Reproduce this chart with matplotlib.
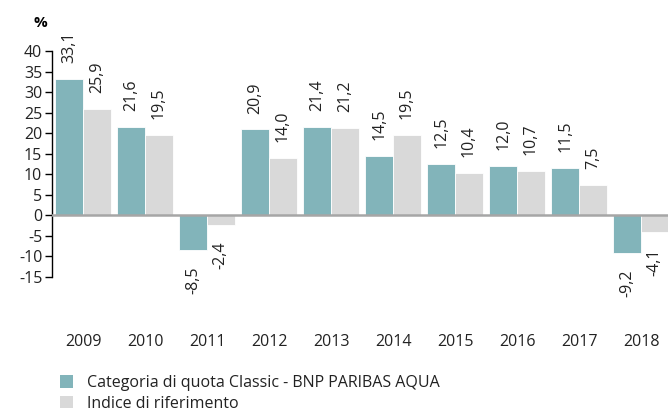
import matplotlib
matplotlib.use("Agg")
import matplotlib.pyplot as plt
from matplotlib.patches import Patch
import numpy as np

years = ["2009", "2010", "2011", "2012", "2013", "2014", "2015", "2016", "2017", "2018"]
fund = [33.1, 21.6, -8.5, 20.9, 21.4, 14.5, 12.5, 12.0, 11.5, -9.2]
index = [25.9, 19.5, -2.4, 14.0, 21.2, 19.5, 10.4, 10.7, 7.5, -4.1]
series_names = ["Categoria di quota Classic - BNP PARIBAS AQUA", "Indice di riferimento"]
yticks = [-15, -10, -5, 0, 5, 10, 15, 20, 25, 30, 35, 40]

teal = "#82b4ba"
grey = "#d9d9d9"
txt = "#222222"

plt.rcParams["font.family"] = ["Open Sans", "DejaVu Sans"]

fig = plt.figure(figsize=(6.68, 4.13), dpi=100)
ax = fig.add_axes([52 / 668, 136 / 413, 620 / 668, 226 / 413])

x = np.arange(len(years))
w = 0.445
b1 = ax.bar(x - w / 2, fund, w, color=teal, edgecolor="white", linewidth=0.6, zorder=2)
b2 = ax.bar(x + w / 2, index, w, color=grey, edgecolor="white", linewidth=0.6, zorder=2)

def fmt(v):
    return f"{v:.1f}".replace(".", ",")

for bars, vals in [(b1, fund), (b2, index)]:
    for r, v in zip(bars, vals):
        cx = r.get_x() + r.get_width() / 2
        if v >= 0:
            ax.annotate(fmt(v), (cx, v), xytext=(0, 11.5), textcoords="offset points",
                        rotation=90, ha="center", va="bottom", fontsize=11.5,
                        color=txt, annotation_clip=False)
        else:
            ax.annotate(fmt(v), (cx, v), xytext=(0, -11.5), textcoords="offset points",
                        rotation=90, ha="center", va="top", fontsize=11.5,
                        color=txt, annotation_clip=False)

ax.set_xlim(-0.5, len(years) - 0.5)
ax.set_ylim(-15, 40)
ax.set_yticks(yticks)
ax.set_yticklabels([str(t) for t in yticks], fontsize=11.5, color=txt)
ax.axhline(0, color="#a6a6a6", linewidth=1.8, zorder=3)

for s in ["top", "right", "bottom"]:
    ax.spines[s].set_visible(False)
ax.spines["left"].set_color("black")
ax.spines["left"].set_linewidth(1.0)
ax.tick_params(axis="y", length=5, width=1.0, pad=2, direction="out")
ax.set_xticks(x)
ax.set_xticklabels(years, fontsize=11.5, color=txt)
ax.tick_params(axis="x", length=0, pad=41)

fig.text(40 / 668, 1 - 23 / 413, "%", fontsize=11, fontweight="bold", ha="center", va="center", color="black")

handles = [Patch(facecolor=teal, edgecolor="none"), Patch(facecolor=grey, edgecolor="none")]
fig.legend(handles, series_names, loc="upper left", bbox_to_anchor=(60 / 668, 1 - 375 / 413),
           frameon=False, fontsize=11.5, handlelength=0.8, handleheight=0.8,
           handletextpad=0.9, labelspacing=0.3, borderpad=0, borderaxespad=0,
           labelcolor=txt)

fig.savefig("out.png", dpi=100)
